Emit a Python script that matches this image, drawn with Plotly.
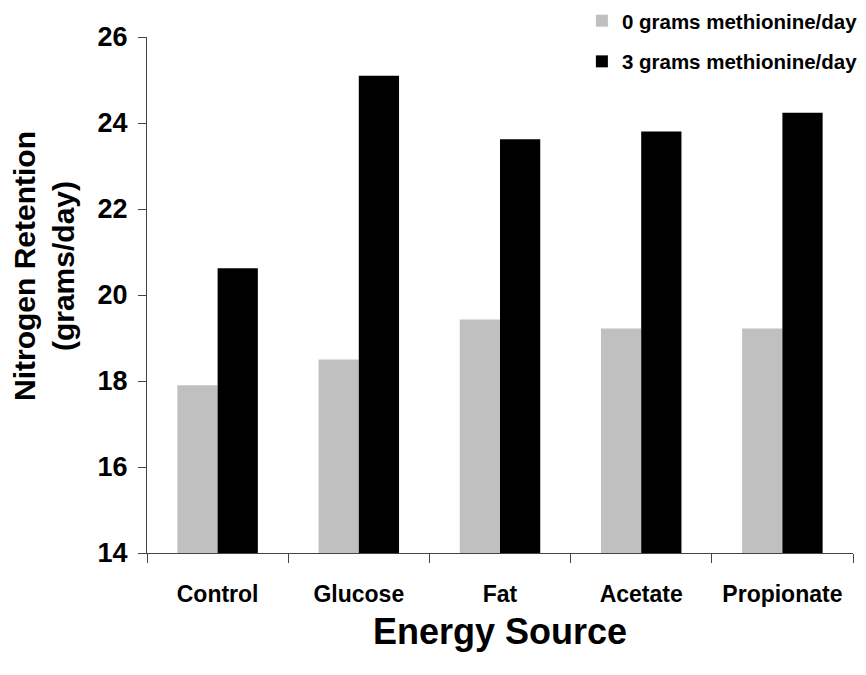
import plotly.graph_objects as go

categories = ["Control", "Glucose", "Fat", "Acetate", "Propionate"]
met0 = [17.9, 18.5, 19.43, 19.22, 19.22]
met3 = [20.62, 25.1, 23.62, 23.8, 24.24]
series_names = ["0 grams methionine/day", "3 grams methionine/day"]
y_ticks = [14, 16, 18, 20, 22, 24, 26]

font = "Liberation Sans, Arial, sans-serif"

fig = go.Figure()
fig.add_trace(go.Bar(x=categories, y=met0, name=series_names[0],
                     marker=dict(color="#C0C0C0", line=dict(width=0)),
                     legendgroup="a"))
fig.add_trace(go.Bar(x=categories, y=met3, name=series_names[1],
                     marker=dict(color="#000000", line=dict(width=0)),
                     legendgroup="b"))

fig.update_layout(
    width=858, height=667,
    margin=dict(l=139, r=13, t=29, b=122, autoexpand=False),
    paper_bgcolor="white", plot_bgcolor="white",
    barmode="group", bargap=0.43, bargroupgap=0,
    font=dict(family=font, color="black"),
    legend=dict(x=0.616, y=1.070, xanchor="left", yanchor="top",
                font=dict(size=20.5, family=font, color="black", weight="bold"),
                tracegroupgap=11, bgcolor="rgba(0,0,0,0)",
                itemwidth=30),
    xaxis=dict(
        showline=True, linecolor="#444444", linewidth=1,
        ticks="outside", tickson="boundaries", ticklen=9, tickcolor="#444444",
        tickfont=dict(size=23, family=font, color="black", weight="bold"),
        ticklabelstandoff=20,
    ),
    yaxis=dict(
        range=[14, 26], tickvals=y_ticks,
        showline=True, linecolor="#444444", linewidth=1,
        ticks="outside", ticklen=8, tickcolor="#444444",
        showgrid=False, zeroline=False,
        tickfont=dict(size=27, family=font, color="black", weight="bold"),
        ticklabelstandoff=5,
    ),
    annotations=[
        dict(
            text="<b>Nitrogen Retention<br>(grams/day)</b>",
            textangle=-90, xref="paper", yref="paper",
            x=-0.1460, y=0.556, xanchor="center", yanchor="middle",
            showarrow=False, font=dict(size=30, family=font, color="black"),
        ),
        dict(
            text="<b>Energy Source</b>",
            xref="paper", yref="paper",
            x=0.5, y=-0.1512, xanchor="center", yanchor="middle",
            showarrow=False, font=dict(size=36, family=font, color="black"),
        ),
    ],
)

fig.write_html("out.html")
